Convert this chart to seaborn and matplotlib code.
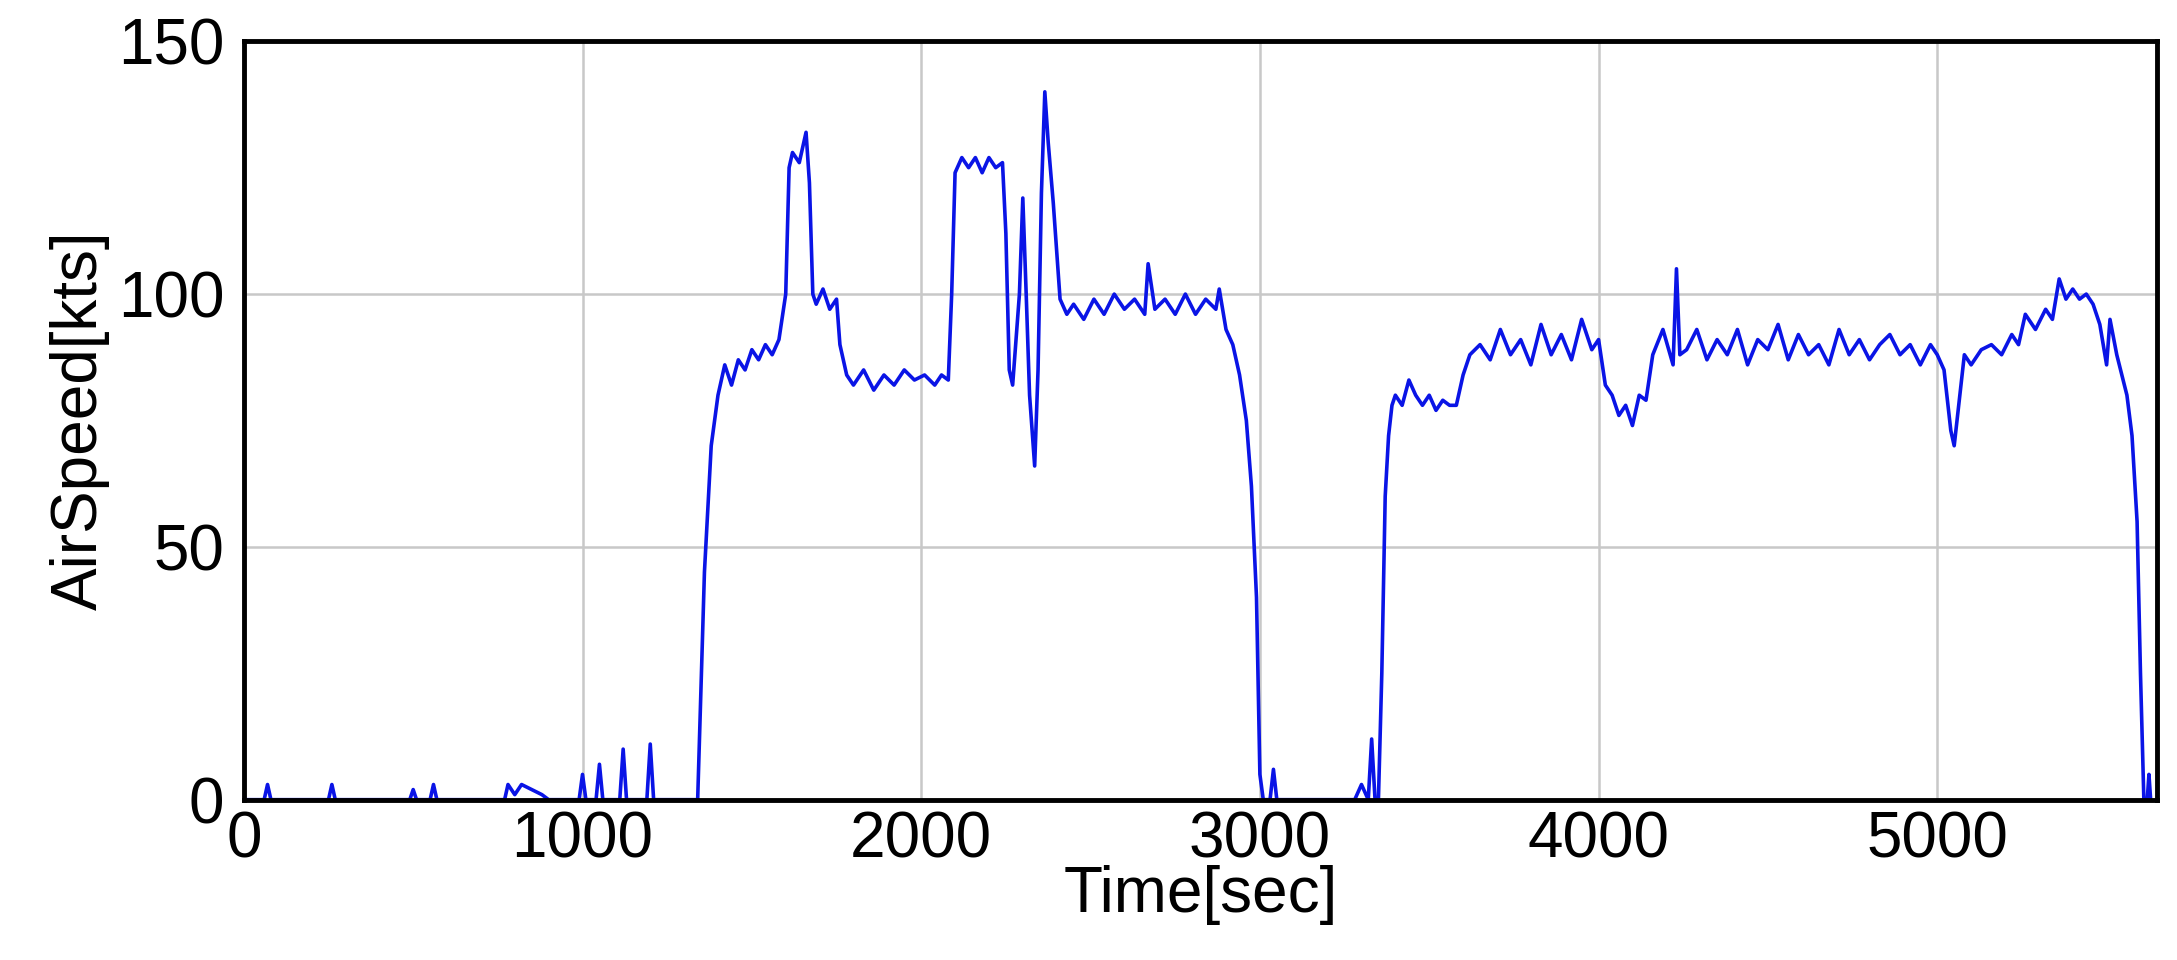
import matplotlib
matplotlib.use('Agg')
import matplotlib.pyplot as plt
import seaborn as sns

# hand-read points: (time sec, airspeed kts)
ground_idle = [(0, 0), (60, 0), (70, 3), (80, 0), (250, 0), (260, 3), (270, 0), (490, 0), (500, 2), (510, 0),
               (550, 0), (560, 3), (570, 0), (770, 0), (780, 3), (800, 1), (820, 3), (850, 2), (880, 1), (900, 0),
               (990, 0), (1000, 5), (1010, 0), (1040, 0), (1050, 7), (1060, 0), (1110, 0), (1120, 10), (1130, 0),
               (1190, 0), (1200, 11), (1210, 0), (1340, 0)]
flight_1 = [(1360, 45), (1380, 70), (1400, 80), (1420, 86), (1440, 82), (1460, 87), (1480, 85), (1500, 89),
            (1520, 87), (1540, 90), (1560, 88), (1580, 91), (1600, 100), (1610, 125), (1620, 128), (1640, 126),
            (1660, 132), (1670, 122), (1680, 100), (1690, 98), (1710, 101), (1730, 97), (1750, 99), (1760, 90),
            (1780, 84), (1800, 82), (1830, 85), (1860, 81), (1890, 84), (1920, 82), (1950, 85), (1980, 83),
            (2010, 84), (2040, 82), (2060, 84), (2080, 83), (2090, 100), (2100, 124), (2120, 127), (2140, 125),
            (2160, 127), (2180, 124), (2200, 127), (2220, 125), (2240, 126), (2250, 112), (2260, 85), (2270, 82),
            (2290, 100), (2300, 119), (2310, 100), (2320, 80), (2335, 66), (2345, 85), (2355, 120), (2365, 140),
            (2375, 130), (2390, 118), (2410, 99), (2430, 96), (2450, 98), (2480, 95), (2510, 99), (2540, 96),
            (2570, 100), (2600, 97), (2630, 99), (2660, 96), (2670, 106), (2690, 97), (2720, 99), (2750, 96),
            (2780, 100), (2810, 96), (2840, 99), (2870, 97), (2880, 101), (2900, 93), (2920, 90), (2940, 84),
            (2960, 75), (2975, 62), (2990, 40), (3000, 5), (3010, 0), (3030, 0), (3040, 6), (3050, 0)]
ground_2 = [(3280, 0), (3300, 3), (3320, 0), (3330, 12), (3340, 0), (3350, 0)]
flight_2 = [(3360, 25), (3370, 60), (3380, 72), (3390, 78), (3400, 80), (3420, 78), (3440, 83), (3460, 80),
            (3480, 78), (3500, 80), (3520, 77), (3540, 79), (3560, 78), (3580, 78), (3600, 84), (3620, 88),
            (3650, 90), (3680, 87), (3710, 93), (3740, 88), (3770, 91), (3800, 86), (3830, 94), (3860, 88),
            (3890, 92), (3920, 87), (3950, 95), (3980, 89), (4000, 91), (4020, 82), (4040, 80), (4060, 76),
            (4080, 78), (4100, 74), (4120, 80), (4140, 79), (4160, 88), (4190, 93), (4220, 86), (4230, 105),
            (4240, 88), (4260, 89), (4290, 93), (4320, 87), (4350, 91), (4380, 88), (4410, 93), (4440, 86),
            (4470, 91), (4500, 89), (4530, 94), (4560, 87), (4590, 92), (4620, 88), (4650, 90), (4680, 86),
            (4710, 93), (4740, 88), (4770, 91), (4800, 87), (4830, 90), (4860, 92), (4890, 88), (4920, 90),
            (4950, 86), (4980, 90), (5000, 88), (5020, 85), (5040, 73), (5050, 70), (5060, 76), (5080, 88),
            (5100, 86), (5130, 89), (5160, 90), (5190, 88), (5220, 92), (5240, 90), (5260, 96), (5290, 93),
            (5320, 97), (5340, 95), (5360, 103), (5380, 99), (5400, 101), (5420, 99), (5440, 100), (5460, 98),
            (5480, 94), (5500, 86), (5510, 95), (5530, 88), (5560, 80), (5575, 72), (5590, 55), (5600, 25),
            (5610, 0), (5620, 0), (5625, 5), (5630, 0)]

points = ground_idle + flight_1 + ground_2 + flight_2
time_sec = [p[0] for p in points]
airspeed = [p[1] for p in points]

sns.set_theme(style='whitegrid')
plt.rcParams['font.family'] = ['Liberation Sans', 'DejaVu Sans']

fig = plt.figure(figsize=(21.77, 9.6), dpi=100)
ax = fig.add_axes([0.112, 0.167, 0.879, 0.79])
sns.lineplot(x=time_sec, y=airspeed, ax=ax, color='#0a14e6', linewidth=2.6)

ax.set_xlim(0, 5650)
ax.set_ylim(0, 150)
ax.set_xticks([0, 1000, 2000, 3000, 4000, 5000])
ax.set_yticks([0, 50, 100, 150])
ax.grid(True, color='#c8c8c8', linewidth=1.8)
for s in ax.spines.values():
    s.set_color('black')
    s.set_linewidth(3.5)
ax.tick_params(labelsize=46, colors='black', length=0)
ax.tick_params(axis='x', pad=8)
ax.tick_params(axis='y', pad=14)
ax.set_xlabel('Time[sec]', fontsize=46, color='black', labelpad=-4)
ax.set_ylabel('AirSpeed[kts]', fontsize=46, color='black', labelpad=6)

fig.savefig('out.png', dpi=100, facecolor='white')
